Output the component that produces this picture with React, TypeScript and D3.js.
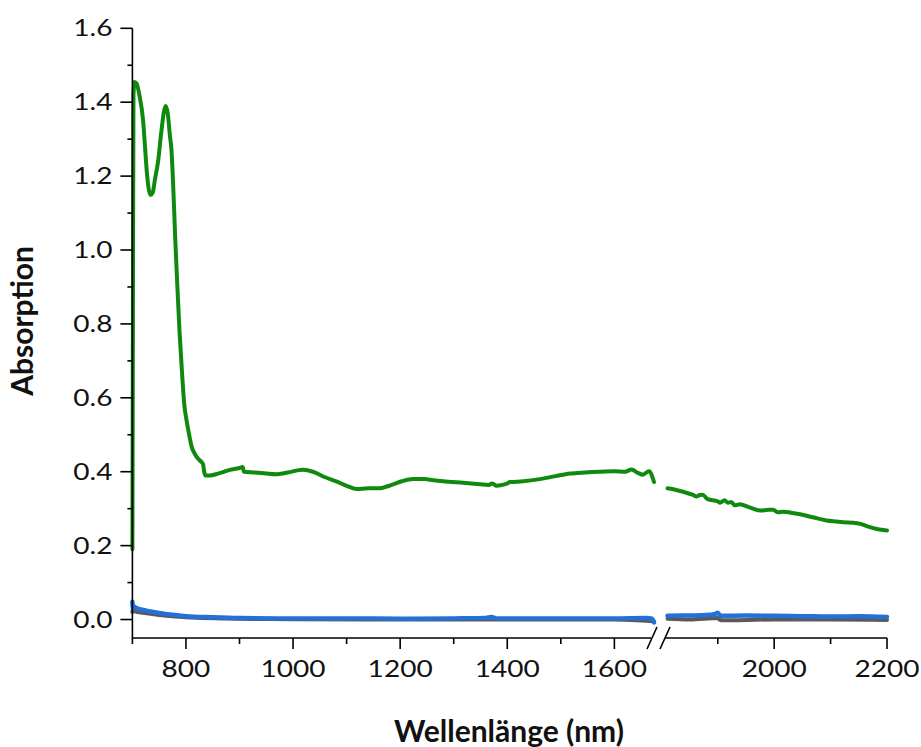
import React from "react";
import * as d3 from "d3";

// ---- data ----
const greenSeg1: [number, number][] = [
  [700, 0.19], [701, 0.85], [702, 1.42], [704, 1.455], [708, 1.45], [713, 1.42], [720, 1.35], [724, 1.27],
  [727, 1.21], [730, 1.17], [734, 1.149], [738, 1.155], [742, 1.19], [748, 1.24], [754, 1.32], [759, 1.375],
  [762, 1.39], [766, 1.37], [770, 1.31], [773, 1.27], [776, 1.18], [780, 1.03], [784, 0.9], [788, 0.78],
  [793, 0.66], [797, 0.58], [801, 0.54], [806, 0.5], [811, 0.466], [816, 0.45], [820, 0.44], [825, 0.432],
  [829, 0.426], [832, 0.42], [834, 0.4], [836, 0.39], [845, 0.39], [860, 0.395], [882, 0.405], [900, 0.41],
  [906, 0.413], [908, 0.4], [930, 0.398], [950, 0.395], [969, 0.393], [990, 0.398], [1019, 0.405], [1037, 0.4],
  [1060, 0.385], [1082, 0.373], [1100, 0.362], [1119, 0.353], [1140, 0.355], [1162, 0.355], [1175, 0.36],
  [1187, 0.366], [1205, 0.375], [1224, 0.38], [1245, 0.38], [1262, 0.377], [1290, 0.373], [1318, 0.37],
  [1349, 0.366], [1365, 0.364], [1372, 0.368], [1380, 0.362], [1390, 0.364], [1400, 0.368], [1405, 0.372],
  [1430, 0.374], [1461, 0.38], [1490, 0.388], [1517, 0.395], [1545, 0.398], [1573, 0.4], [1600, 0.401],
  [1620, 0.4], [1632, 0.406], [1645, 0.396], [1653, 0.392], [1660, 0.398], [1665, 0.401], [1670, 0.39], [1674, 0.372],
];
const greenSeg2: [number, number][] = [
  [1811, 0.355], [1825, 0.351], [1840, 0.345], [1855, 0.338], [1863, 0.333], [1868, 0.337], [1873, 0.338],
  [1882, 0.326], [1900, 0.32], [1904, 0.316], [1912, 0.323], [1918, 0.316], [1924, 0.318], [1930, 0.309],
  [1939, 0.312], [1955, 0.304], [1975, 0.295], [1990, 0.297], [1998, 0.297], [2007, 0.29], [2016, 0.292],
  [2030, 0.289], [2046, 0.285], [2070, 0.276], [2093, 0.268], [2110, 0.265], [2122, 0.263], [2140, 0.262],
  [2153, 0.259], [2164, 0.253], [2182, 0.245], [2200, 0.241],
];
const blueSeg1: [number, number][] = [
  [700, 0.048], [701, 0.03], [703, 0.035], [706, 0.032], [720, 0.026], [750, 0.018], [780, 0.012], [800, 0.009],
  [850, 0.006], [900, 0.004], [1000, 0.003], [1100, 0.003], [1200, 0.002], [1300, 0.003], [1360, 0.004],
  [1370, 0.007], [1380, 0.003], [1500, 0.003], [1600, 0.003], [1660, 0.004], [1670, 0.002], [1674, -0.008],
];
const graySeg1: [number, number][] = [
  [700, 0.02], [701, 0.03], [705, 0.022], [720, 0.018], [750, 0.012], [800, 0.006], [900, 0.002],
  [1000, 0.001], [1200, 0.0], [1400, 0.0], [1600, 0.0], [1674, -0.005],
];
const blueSeg2: [number, number][] = [
  [1811, 0.01], [1850, 0.011], [1880, 0.012], [1895, 0.015], [1900, 0.018], [1905, 0.01], [1950, 0.011],
  [2000, 0.01], [2050, 0.009], [2100, 0.008], [2150, 0.009], [2200, 0.007],
];
const graySeg2: [number, number][] = [
  [1811, 0.002], [1850, 0.0], [1900, 0.004], [1905, -0.002], [2000, 0.0], [2100, 0.0], [2200, -0.001],
];

const xTicks1 = [700, 800, 900, 1000, 1100, 1200, 1300, 1400, 1500, 1600];
const xTicks2 = [1900, 2000, 2100, 2200];
const yTicks = [0, 0.1, 0.2, 0.3, 0.4, 0.5, 0.6, 0.7, 0.8, 0.9, 1.0, 1.1, 1.2, 1.3, 1.4, 1.5, 1.6];
const xLabel = "Wellenlänge (nm)";
const yLabel = "Absorption";

const W = 921;
const H = 747;

export default function App() {
  const y = d3.scaleLinear().domain([-0.05, 1.6]).range([638, 28.3]);
  const x1 = d3.scaleLinear().domain([700, 1674]).range([132.4, 654]);
  const x2 = d3.scaleLinear().domain([1810, 2200]).range([667, 887]);
  const axisY = 638;
  const axisX = 132.4;

  const mk = (xs: d3.ScaleLinear<number, number>) =>
    d3
      .line<[number, number]>()
      .x((d) => xs(d[0]))
      .y((d) => y(d[1]))
      .curve(d3.curveMonotoneX);

  const l1 = mk(x1);
  const l2 = mk(x2);

  const isMajorX = (v: number) => v % 200 === 0;
  const isMajorY = (v: number) => Math.round(v * 10) % 2 === 0;

  const tickFont = "Lato, 'Open Sans', sans-serif";
  const green = "#0f8a0f";
  const blue = "#2370d8";
  const gray = "#5a5a5a";

  return (
    <svg width={W} height={H} style={{ position: "absolute", left: 0, top: 0, background: "#fff" }}>
      {/* lines */}
      <g fill="none" strokeLinejoin="round" strokeLinecap="round">
        <path d={l1(graySeg1) || ""} stroke={gray} strokeWidth={4} />
        <path d={l2(graySeg2) || ""} stroke={gray} strokeWidth={4} />
        <path d={l1(blueSeg1) || ""} stroke={blue} strokeWidth={4.5} />
        <path d={l2(blueSeg2) || ""} stroke={blue} strokeWidth={4.5} />
        <path d={l1(greenSeg1) || ""} stroke={green} strokeWidth={4} />
        <path d={l2(greenSeg2) || ""} stroke={green} strokeWidth={4} />
      </g>

      {/* y axis */}
      <g stroke="#000" strokeWidth={1.6}>
        <line x1={axisX} x2={axisX} y1={y(1.6)} y2={axisY + 0.8} />
        {yTicks.map((v) => (
          <line key={v} x1={axisX - (isMajorY(v) ? 12 : 5)} x2={axisX} y1={y(v)} y2={y(v)} />
        ))}
      </g>
      <g fontFamily={tickFont} fontSize={23} fill="#111">
        {yTicks.filter(isMajorY).map((v) => (
          <g key={v} transform={`translate(${axisX - 20},${y(v) + 8}) scale(1.22,1)`}>
            <text textAnchor="end">{v.toFixed(1)}</text>
          </g>
        ))}
      </g>

      {/* x axis */}
      <g stroke="#000" strokeWidth={1.6}>
        <line x1={axisX} x2={651} y1={axisY} y2={axisY} />
        <line x1={665} x2={x2(2200)} y1={axisY} y2={axisY} />
        <line x1={647} x2={657} y1={axisY + 11} y2={axisY - 11} />
        <line x1={660} x2={670} y1={axisY + 11} y2={axisY - 11} />
        {xTicks1.map((v) => (
          <line key={v} x1={x1(v)} x2={x1(v)} y1={axisY} y2={axisY + (isMajorX(v) ? 11 : 6)} />
        ))}
        {xTicks2.map((v) => (
          <line key={v} x1={x2(v)} x2={x2(v)} y1={axisY} y2={axisY + (isMajorX(v) ? 11 : 6)} />
        ))}
      </g>
      <g fontFamily={tickFont} fontSize={23} fill="#111">
        {xTicks1.filter(isMajorX).map((v) => (
          <g key={v} transform={`translate(${x1(v)},${677}) scale(1.22,1)`}>
            <text textAnchor="middle">{v}</text>
          </g>
        ))}
        {xTicks2.filter(isMajorX).map((v) => (
          <g key={v} transform={`translate(${x2(v)},${677}) scale(1.22,1)`}>
            <text textAnchor="middle">{v}</text>
          </g>
        ))}
      </g>

      {/* axis titles */}
      <text
        x={509}
        y={742}
        textAnchor="middle"
        fontFamily={tickFont}
        fontWeight="bold"
        fontSize={30}
        fill="#111"
      >
        {xLabel}
      </text>
      <text
        transform={`translate(33,321) rotate(-90)`}
        textAnchor="middle"
        fontFamily={tickFont}
        fontWeight="bold"
        fontSize={30}
        fill="#111"
      >
        {yLabel}
      </text>
    </svg>
  );
}
